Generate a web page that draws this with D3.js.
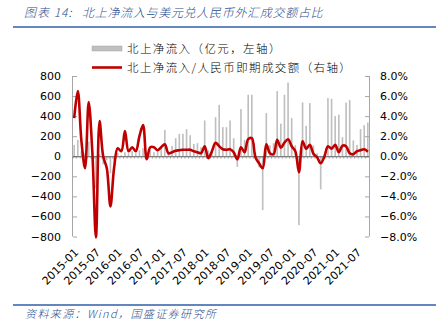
<!DOCTYPE html>
<html><head><meta charset="utf-8">
<script src="https://cdn.jsdelivr.net/npm/d3@7"></script>
<style>body{margin:0;background:#fff}svg{display:block}</style></head>
<body>
<script>
// categories: monthly 2015-01 .. 2021-10
const months = [];
for (let y = 2015; y <= 2021; y++) for (let m = 1; m <= 12; m++) {
  if (y === 2021 && m > 10) break;
  months.push(y + "-" + String(m).padStart(2, "0"));
}
// 北上净流入（亿元）
const inflow = [
  113,163,50,30,147,60,-320,20,-80,-40,-170,-40,
  30,10,40,30,50,30,60,80,40,60,40,50,
  100,263,20,103,180,223,223,270,210,123,130,90,
  357,60,70,390,513,290,290,357,180,-105,470,163,
  613,613,40,-110,-537,430,110,130,650,325,613,735,
  380,110,-687,537,303,530,108,30,-330,20,580,573,
  400,415,190,535,560,158,113,270,310,337
];
// 北上净流入/人民币即期成交额（%）
const ratio = [
  3.8,6.5,1.5,-1.2,5.4,0.5,-8.1,3.5,0.0,-1.2,-5.0,-1.2,
  0.8,0.5,2.5,0.5,0.9,0.5,2.0,3.1,-0.3,0.9,0.9,0.6,
  0.9,1.2,0.3,0.4,0.55,0.6,0.65,0.65,0.65,0.5,0.4,0.3,
  1.0,-0.2,0.5,1.35,1.0,0.7,0.65,0.7,0.4,-0.3,0.9,0.4,
  1.7,1.8,-0.1,-0.7,-1.2,1.2,0.3,0.2,1.65,0.85,1.35,1.7,
  1.0,0.5,-1.6,1.5,0.75,1.15,0.25,-0.1,-0.7,-0.05,1.0,0.75,
  1.15,0.4,1.05,1.0,0.3,0.2,0.5,0.6,0.7,0.45
];
const xTickLabels = ["2015-01","2015-07","2016-01","2016-07","2017-01","2017-07","2018-01",
  "2018-07","2019-01","2019-07","2020-01","2020-07","2021-01","2021-07"];
const leftTicks = [800,600,400,200,0,-200,-400,-600,-800];
const rightTicks = [8,6,4,2,0,-2,-4,-6,-8];
const titleLabel = "图表 14:";
const titleText = "北上净流入与美元兑人民币外汇成交额占比";
const legendLabels = ["北上净流入（亿元，左轴）", "北上净流入/人民币即期成交额（右轴）"];
const sourceText = "资料来源：Wind，国盛证券研究所";

const W = 436, H = 326;
const svg = d3.select("body").append("svg").attr("width", W).attr("height", H);
const numFont = "'DejaVu Sans', sans-serif";
const cjkFont = "'Noto Sans CJK SC', sans-serif";

// header
svg.append("text").attr("x", 24).attr("y", 17)
  .attr("font-family", cjkFont).attr("font-size", 12).attr("font-style", "italic")
  .attr("font-weight", 300).attr("letter-spacing", 1.0).attr("fill", "#2a4b8d").text(titleLabel);
svg.append("text").attr("x", 82).attr("y", 17)
  .attr("font-family", cjkFont).attr("font-size", 12).attr("font-style", "italic")
  .attr("font-weight", 300).attr("letter-spacing", 0.7).attr("fill", "#2a4b8d").text(titleText);
svg.append("line").attr("x1", 13).attr("x2", 436).attr("y1", 27).attr("y2", 27)
  .attr("stroke", "#2f5ea8").attr("stroke-width", 1.6);

const x = d3.scaleBand().domain(months).range([73, 369]).paddingInner(0.55).paddingOuter(0.1);
const xc = d => x(d) + x.bandwidth() / 2;
const yL = d3.scaleLinear().domain([-800, 800]).range([236.5, 76]);
const yR = d3.scaleLinear().domain([-8, 8]).range([236.5, 76]);

// bars
svg.append("g").selectAll("rect").data(months).join("rect")
  .attr("x", d => x(d)).attr("width", x.bandwidth())
  .attr("y", (d, i) => Math.min(yL(inflow[i]), yL(0)))
  .attr("height", (d, i) => Math.abs(yL(inflow[i]) - yL(0)))
  .attr("fill", "#bfbfbf");

// left axis
const axL = svg.append("g").attr("transform", "translate(73,0)")
  .call(d3.axisLeft(yL).tickValues(leftTicks).tickSize(-4).tickPadding(12).tickFormat(d3.format("d")));
axL.select(".domain").attr("stroke", "#a6a6a6").attr("d", "M-0.5,76V236.5");
axL.selectAll(".tick line").attr("stroke", "#a6a6a6");
axL.selectAll("text").attr("font-family", numFont).attr("font-size", 11).attr("fill", "#000");

// right axis
const axR = svg.append("g").attr("transform", "translate(369,0)")
  .call(d3.axisRight(yR).tickValues(rightTicks).tickSize(-4).tickPadding(11).tickFormat(d => d3.format(".1f")(d) + "%"));
axR.select(".domain").attr("stroke", "#a6a6a6").attr("d", "M0.5,76V236.5");
axR.selectAll(".tick line").attr("stroke", "#a6a6a6");
axR.selectAll("text").attr("font-family", numFont).attr("font-size", 11).attr("fill", "#000");

// zero line (category axis) with small ticks
const axX = svg.append("g").attr("transform", `translate(0,${yL(0)})`)
  .call(d3.axisBottom(x.copy().paddingInner(0).paddingOuter(0)).tickSize(0).tickFormat(""));
axX.select(".domain").attr("stroke", "#595959").attr("d", "M73,0.5H369");
axX.selectAll(".tick").remove();
svg.append("g").selectAll("line").data(months).join("line")
  .attr("x1", (d, i) => 73 + i * (296 / months.length)).attr("x2", (d, i) => 73 + i * (296 / months.length))
  .attr("y1", yL(0)).attr("y2", yL(0) + 2.5).attr("stroke", "#7f7f7f").attr("stroke-width", 0.6);

// x labels
svg.append("g").selectAll("text").data(xTickLabels).join("text")
  .attr("transform", d => `translate(${xc(d) + 5},${253}) rotate(-45)`)
  .attr("text-anchor", "end").attr("font-family", numFont).attr("font-size", 11)
  .attr("fill", "#000").text(d => d);

// ratio line
const line = d3.line().x((d, i) => xc(months[i])).y(d => yR(d)).curve(d3.curveCatmullRom.alpha(0.5));
svg.append("path").datum(ratio).attr("d", line).attr("fill", "none")
  .attr("stroke", "#c00000").attr("stroke-width", 2.6).attr("stroke-linejoin", "round");

// legend
svg.append("rect").attr("x", 92).attr("y", 46).attr("width", 30).attr("height", 5)
  .attr("fill", "#bfbfbf").attr("stroke", "#a6a6a6").attr("stroke-width", 0.5);
svg.append("line").attr("x1", 92).attr("x2", 122).attr("y1", 67.5).attr("y2", 67.5)
  .attr("stroke", "#c00000").attr("stroke-width", 2.6);
svg.append("g").selectAll("text").data(legendLabels).join("text")
  .attr("x", 127).attr("y", (d, i) => i === 0 ? 53 : 71.5)
  .attr("font-family", cjkFont).attr("font-size", 11.5).attr("font-weight", 300).attr("letter-spacing", 1.4)
  .attr("fill", "#000").text(d => d);

// footer
svg.append("line").attr("x1", 13).attr("x2", 436).attr("y1", 305).attr("y2", 305)
  .attr("stroke", "#2f5ea8").attr("stroke-width", 1.3);
svg.append("text").attr("x", 25).attr("y", 318)
  .attr("font-family", cjkFont).attr("font-size", 11).attr("font-style", "italic").attr("font-weight", 300)
  .attr("letter-spacing", 1.4).attr("fill", "#2a4b8d").text(sourceText);
</script>
</body></html>
